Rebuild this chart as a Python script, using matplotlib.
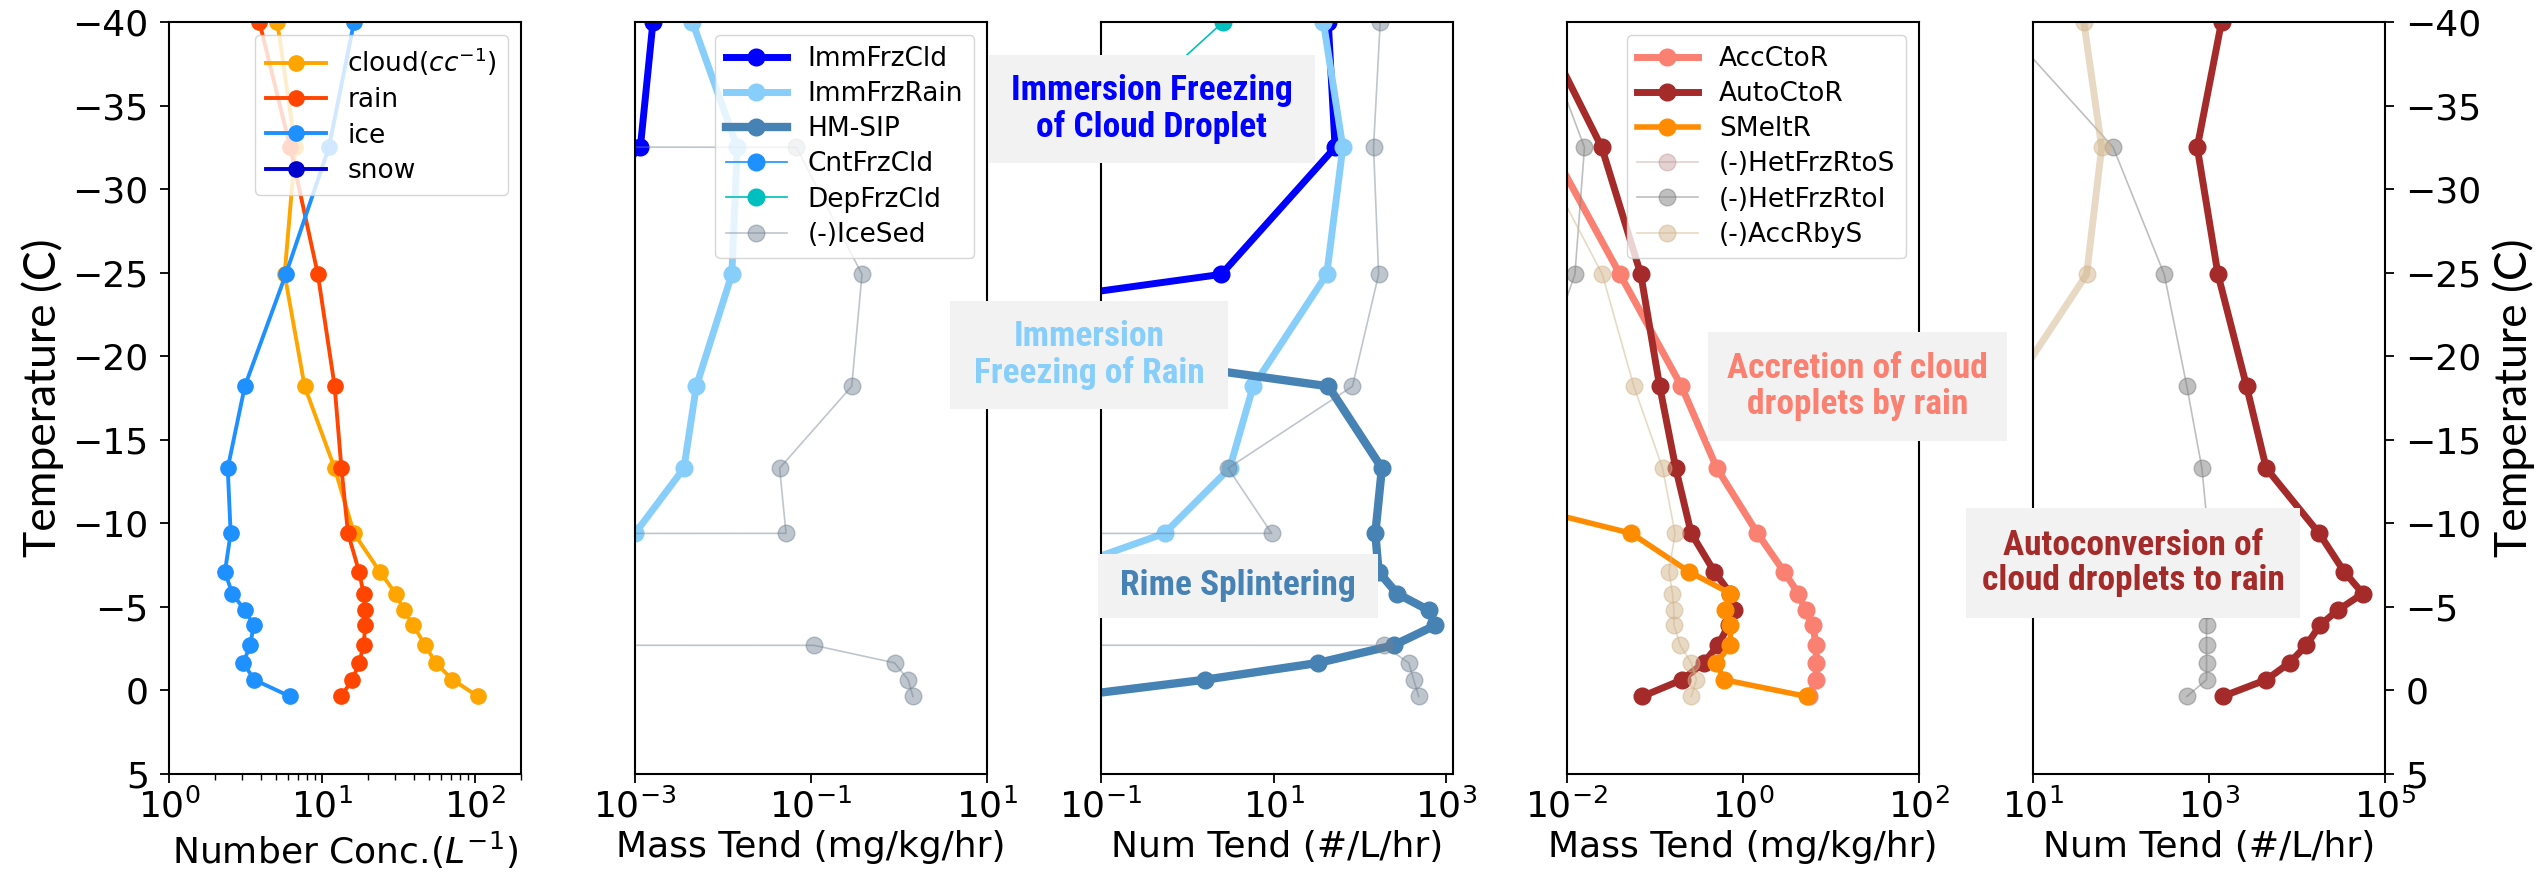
import numpy as np
import matplotlib
matplotlib.use("Agg")
import matplotlib.pyplot as plt
from matplotlib.patches import Rectangle

# temperature levels (C)
temp = [-40.0, -32.5, -24.9, -18.2, -13.3, -9.4, -7.1, -5.8, -4.8, -3.9, -2.7, -1.65, -0.64, 0.36]

# number concentration (L-1), cloud in cc-1
cloud = [5.1, 6.7, 5.7, 7.7, 12.1, 16.2, 23.9, 30.3, 34.3, 39.6, 47.2, 55.5, 71.3, 105.0]
rain = [3.9, 6.2, 9.4, 12.1, 13.4, 14.8, 17.5, 18.7, 19.2, 19.2, 18.7, 17.5, 15.8, 13.3]
ice = [16.2, 11.1, 5.8, 3.13, 2.42, 2.53, 2.32, 2.59, 3.13, 3.58, 3.39, 3.06, 3.61, 6.18]
snow = [0.0, 0.0, 0.0, 0.0, 0.0, 0.0, 0.0, 0.0, 0.0, 0.0, 0.0, 0.0, 0.0, 0.0]

# ice formation, mass tendency (mg/kg/hr)
imm_cld_m = [1.6e-3, 1.15e-3, 5.5e-5, 2e-11, 1e-12, 0, 0, 0, 0, 0, 0, 0, 0, 0]
imm_rain_m = [4.5e-3, 1.45e-2, 1.26e-2, 4.97e-3, 3.6e-3, 1.0e-3, 5e-5, 2e-5, 1e-5, 5e-6, 2e-6, 1e-6, 0, 0]
hmsip_m = [0, 0, 0, 1e-6, 5e-6, 4e-6, 4e-6, 7e-6, 1.6e-5, 1.9e-5, 6e-6, 8e-7, 4e-8, 1e-9]
cntfrz_m = [0, 0, 0, 0, 0, 0, 0, 0, 0, 0, 0, 0, 0, 0]
depfrz_m = [2e-5, 5e-7, 0, 0, 0, 0, 0, 0, 0, 0, 0, 0, 0, 0]
icesed_m = [0, 0.068, 0.38, 0.29, 0.044, 0.052, 0, 0, 0, 0, 0.108, 0.89, 1.27, 1.44]

# ice formation, number tendency (#/L/hr)
imm_cld_n = [43.0, 51.6, 2.48, 1e-9, 0, 0, 0, 0, 0, 0, 0, 0, 0, 0]
imm_rain_n = [37.8, 63.4, 41.3, 5.8, 3.1, 0.545, 0.03, 0.01, 5e-3, 2e-3, 1e-3, 5e-4, 0, 0]
hmsip_n = [0, 0, 2e-8, 43.2, 180, 151, 165, 269, 628, 751, 246, 33, 1.59, 0.043]
cntfrz_n = [0, 0, 0, 0, 0, 0, 0, 0, 0, 0, 0, 0, 0, 0]
depfrz_n = [2.6, 0.066, 1e-4, 0, 0, 0, 0, 0, 0, 0, 0, 0, 0, 0]
icesed_n = [172, 144, 165, 82, 2.97, 9.5, 0, 0, 0, 0, 188, 368, 421, 481]

# rain formation, mass tendency (mg/kg/hr)
acc_m = [2e-3, 6.5e-3, 0.040, 0.2, 0.505, 1.46, 2.93, 4.26, 5.14, 6.2, 6.8, 6.8, 6.8, 5.6]
auto_m = [4.8e-3, 0.0248, 0.069, 0.113, 0.172, 0.258, 0.473, 0.72, 0.79, 0.687, 0.519, 0.357, 0.204, 0.0714]
smelt_m = [0, 0, 0, 0, 5.8e-5, 0.054, 0.245, 0.72, 0.627, 0.72, 0.72, 0.496, 0.61, 5.3]
hetrs_m = [0, 0, 0, 0, 0, 0, 0, 0, 0, 0, 0, 0, 0, 0]
hetri_m = [4.6e-3, 0.0158, 0.0123, 4.4e-3, 2e-3, 1e-3, 8e-4, 6e-4, 5e-4, 4e-4, 3e-4, 2e-4, 1e-4, 5e-5]
accrs_m = [1.5e-3, 4.4e-3, 0.0252, 0.0575, 0.122, 0.169, 0.144, 0.158, 0.164, 0.164, 0.194, 0.258, 0.296, 0.258]

# rain formation, number tendency (#/L/hr)
auto_n = [1387, 735, 1264, 2673, 4470, 17860, 34400, 56000, 29000, 18200, 12760, 8220, 4470, 1426]
hetri_n = [4.2, 81.5, 310, 560, 830, 980, 960, 945, 937, 937, 937, 937, 937, 560]
accrs_n = [37.8, 60.3, 40.7, 5.9, 3.0, 2.0, 1.5, 1.2, 1.0, 1.0, 1.0, 1.0, 1.0, 1.0]

W, H = 2542.0, 882.0
fig = plt.figure(figsize=(W / 100, H / 100), dpi=100)

axs = []
for i in range(5):
    ax = fig.add_axes([(169 + 466 * i) / W, 1 - 774 / H, 352 / W, 752 / H])
    axs.append(ax)

xlims = [(1, 200), (1e-3, 10), (0.1, 1200), (1e-2, 1e2), (10, 1e5)]
xlabels = ["Number Conc.($L^{-1}$)", "Mass Tend (mg/kg/hr)", "Num Tend (#/L/hr)",
           "Mass Tend (mg/kg/hr)", "Num Tend (#/L/hr)"]

thick = dict(lw=5, ms=12, marker="o")
thin = dict(lw=1.2, ms=12, marker="o")

# panel 1
ax = axs[0]
ax.plot(cloud, temp, color="orange", lw=2.8, marker="o", ms=11, label="cloud($cc^{-1}$)")
ax.plot(rain, temp, color="orangered", lw=2.8, marker="o", ms=11, label="rain")
ax.plot(ice, temp, color="dodgerblue", lw=2.8, marker="o", ms=11, label="ice")
ax.plot(snow, temp, color="mediumblue", lw=2.8, marker="o", ms=11, label="snow")

# panels 2, 3
for ax, d in zip(axs[1:3], [(imm_cld_m, imm_rain_m, hmsip_m, cntfrz_m, depfrz_m, icesed_m),
                            (imm_cld_n, imm_rain_n, hmsip_n, cntfrz_n, depfrz_n, icesed_n)]):
    ax.plot(d[0], temp, color="blue", label="ImmFrzCld", **thick)
    ax.plot(d[1], temp, color="lightskyblue", label="ImmFrzRain", **thick)
    ax.plot(d[2], temp, color="steelblue", label="HM-SIP", lw=6, ms=12, marker="o")
    ax.plot(d[3], temp, color="dodgerblue", label="CntFrzCld", **thin)
    ax.plot(d[4], temp, color="c", label="DepFrzCld", **thin)
    ax.plot(d[5], temp, color="slategray", alpha=0.45, label="(-)IceSed", **thin)

# panel 4
ax = axs[3]
ax.plot(acc_m, temp, color="salmon", label="AccCtoR", **thick)
ax.plot(auto_m, temp, color="brown", label="AutoCtoR", **thick)
ax.plot(smelt_m, temp, color="darkorange", label="SMeltR", lw=4, ms=12, marker="o")
ax.plot(hetrs_m, temp, color="rosybrown", alpha=0.4, label="(-)HetFrzRtoS", **thin)
ax.plot(hetri_m, temp, color="gray", alpha=0.5, label="(-)HetFrzRtoI", **thin)
ax.plot(accrs_m, temp, color="tan", alpha=0.5, label="(-)AccRbyS", **thin)

# panel 5
ax = axs[4]
ax.plot(auto_n, temp, color="brown", **thick)
ax.plot(hetri_n, temp, color="gray", alpha=0.5, **thin)
ax.plot(accrs_n, temp, color="tan", alpha=0.5, **thick)

for i, ax in enumerate(axs):
    ax.set_xscale("log")
    ax.set_xlim(*xlims[i])
    ax.set_ylim(5, -40)
    ax.set_yticks(np.arange(-40, 6, 5))
    ax.tick_params(which="major", length=6.5, width=1.3, labelsize=26)
    ax.tick_params(which="minor", length=4, width=1.0)
    ax.tick_params(axis="y", pad=8)
    for s in ax.spines.values():
        s.set_linewidth(1.5)
    ax.set_xlabel(xlabels[i], fontsize=26, labelpad=4)
    if i in (1, 2, 3):
        ax.tick_params(axis="y", left=False, labelleft=False)
    if i == 4:
        ax.tick_params(axis="y", left=False, labelleft=False, right=True, labelright=True)
        ax.yaxis.set_label_position("right")

axs[0].set_ylabel("Temperature (C)", fontsize=32, family=["Lato", "DejaVu Sans"], labelpad=6)
axs[4].set_ylabel("Temperature (C)", fontsize=32, family=["Lato", "DejaVu Sans"], labelpad=8)

for i in (0, 1, 3):
    axs[i].legend(loc="upper right", fontsize=19, labelspacing=0.35, handlelength=2.3,
                  borderaxespad=0.5)

# annotation boxes (pixel extents in the figure)
notes = [
    ("Immersion Freezing\nof Cloud Droplet", "blue", (989, 55, 1315, 163)),
    ("Immersion\nFreezing of Rain", "lightskyblue", (950, 301, 1228, 409)),
    ("Rime Splintering", "steelblue", (1098, 554, 1378, 618)),
    ("Accretion of cloud\ndroplets by rain", "salmon", (1708, 332, 2007, 441)),
    ("Autoconversion of\ncloud droplets to rain", "brown", (1966, 508, 2300, 618)),
]
note_font = ["Roboto Condensed", "Archivo Narrow", "PT Sans Narrow", "Liberation Sans"]
for txt, col, (x0, y0, x1, y1) in notes:
    fig.patches.append(Rectangle((x0 / W, 1 - y1 / H), (x1 - x0) / W, (y1 - y0) / H,
                                 transform=fig.transFigure, facecolor="#f2f2f2",
                                 edgecolor="none", zorder=5))
    fig.text((x0 + x1) / 2 / W, 1 - (y0 + y1) / 2 / H, txt, ha="center", va="center",
             fontsize=25.5, fontweight="bold", color=col, linespacing=1.1,
             family=note_font, zorder=6)

fig.savefig("out.png", dpi=100)
